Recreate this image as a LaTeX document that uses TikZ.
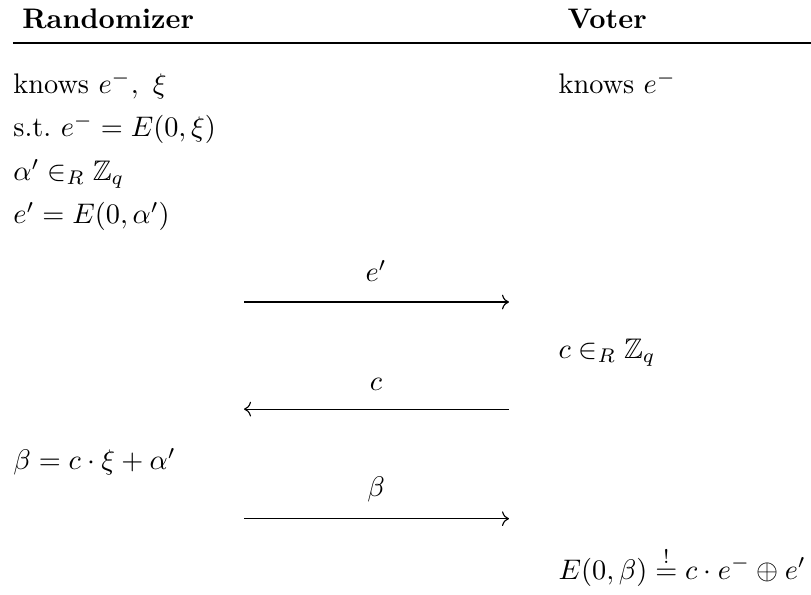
\documentclass[tikz,border=0pt]{standalone}
\usepackage{tikz}
\usetikzlibrary{arrows.meta, positioning, calc}
\usepackage{amsmath, amssymb}
\tikzset{
  pr/head/.style={anchor=base west, inner sep=0pt, font=\bfseries},
  pr/txt/.style={anchor=base west, inner sep=0pt},
  pr/lbl/.style={anchor=base, inner sep=0pt},
  pr/msg/.style={-{To}, line width=0.4pt},
  pr/rule/.style={line width=0.5pt}
}

\begin{document}
\begin{tikzpicture}
    \useasboundingbox (0,0) rectangle (10.07,7.38);
    % header
    \node[pr/head] (rnd) at (0.27,7.03) {Randomizer};
    \node[pr/head] (vot) at (7.04,7.03) {Voter};
    \coordinate (ruleL) at (0.16,6.845);
    \coordinate (ruleR) at (10.07,6.845);
    \draw[pr/rule] (ruleL) -- (ruleR);
    % randomizer side
    \node[pr/txt] (r1) at (0.16,6.22) {knows $e^{-},\ \xi$};
    \node[pr/txt] (r2) at (0.16,5.68) {s.t.\ $e^{-} = E(0,\xi)$};
    \node[pr/txt] (r3) at (0.16,5.14) {$\alpha' \in_R \mathbb{Z}_q$};
    \node[pr/txt] (r4) at (0.16,4.60) {$e' = E(0,\alpha')$};
    \node[pr/txt] (r5) at (0.16,1.55) {$\beta = c \cdot \xi + \alpha'$};
    % voter side
    \node[pr/txt] (v1) at (6.93,6.22) {knows $e^{-}$};
    \node[pr/txt] (v2) at (6.93,2.93) {$c \in_R \mathbb{Z}_q$};
    \node[pr/txt] (v3) at (6.93,0.19) {$E(0,\beta) \stackrel{!}{=} c \cdot e^{-} \oplus e'$};
    % messages
    \coordinate (m1L) at (3.03,3.63);
    \coordinate (m1R) at (6.32,3.63);
    \node[pr/lbl] (m1) at (4.67,3.88) {$e'$};
    \draw[pr/msg] (m1L) -- (m1R);
    \coordinate (m2L) at (3.03,2.30);
    \coordinate (m2R) at (6.32,2.30);
    \node[pr/lbl] (m2) at (4.67,2.53) {$c$};
    \draw[pr/msg] (m2R) -- (m2L);
    \coordinate (m3L) at (3.03,0.94);
    \coordinate (m3R) at (6.32,0.94);
    \node[pr/lbl] (m3) at (4.67,1.22) {$\beta$};
    \draw[pr/msg] (m3L) -- (m3R);
\end{tikzpicture}
\end{document}
